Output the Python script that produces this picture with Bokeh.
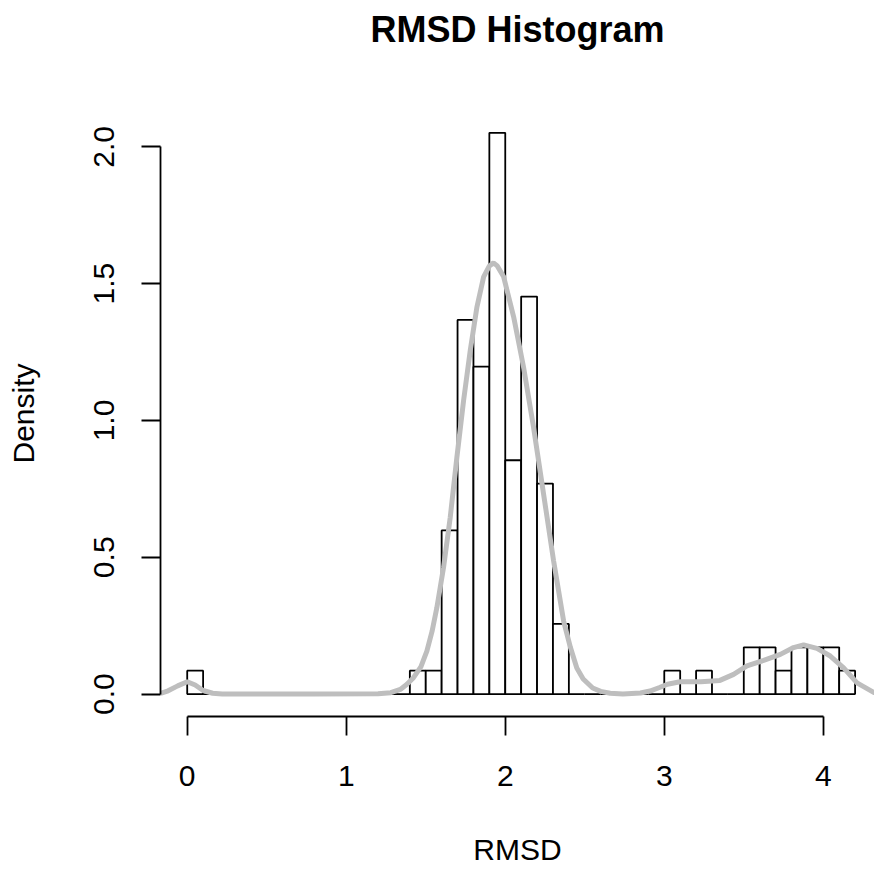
from bokeh.plotting import figure
from bokeh.models import Range1d, FixedTicker, Title
from bokeh.embed import file_html
from bokeh.resources import INLINE

# ---- data ----
bin_width = 0.1
bin_left = [0.0, 0.1, 0.2, 0.3, 0.4, 0.5, 0.6, 0.7, 0.8, 0.9,
            1.0, 1.1, 1.2, 1.3, 1.4, 1.5, 1.6, 1.7, 1.8, 1.9,
            2.0, 2.1, 2.2, 2.3, 2.4, 2.5, 2.6, 2.7, 2.8, 2.9,
            3.0, 3.1, 3.2, 3.3, 3.4, 3.5, 3.6, 3.7, 3.8, 3.9,
            4.0, 4.1]
bin_counts = [1, 0, 0, 0, 0, 0, 0, 0, 0, 0,
              0, 0, 0, 0, 1, 1, 7, 16, 14, 24,
              10, 17, 9, 3, 0, 0, 0, 0, 0, 0,
              1, 0, 1, 0, 0, 2, 2, 1, 2, 2,
              2, 1]

# kernel density curve
dens_x = [-0.168, -0.12, -0.06, 0.0, 0.05, 0.10, 0.16, 0.22, 0.4, 0.8,
          1.2, 1.28, 1.34, 1.38, 1.423, 1.47, 1.507, 1.54, 1.570, 1.612,
          1.654, 1.696, 1.738, 1.780, 1.822, 1.864, 1.90, 1.926, 1.95, 1.990,
          2.053, 2.115, 2.178, 2.241, 2.304, 2.367, 2.41, 2.45, 2.49, 2.55,
          2.60, 2.66, 2.74, 2.85, 2.91, 2.97, 3.02, 3.10, 3.23, 3.35,
          3.436, 3.52, 3.625, 3.73, 3.813, 3.876, 3.96, 4.044, 4.128, 4.212,
          4.317, 4.368]
dens_y = [0.002, 0.012, 0.030, 0.045, 0.033, 0.013, 0.003, 0.0, 0.0, 0.0,
          0.001, 0.005, 0.017, 0.035, 0.060, 0.100, 0.157, 0.230, 0.316, 0.463,
          0.646, 0.866, 1.073, 1.256, 1.415, 1.525, 1.565, 1.576, 1.565, 1.525,
          1.378, 1.195, 0.975, 0.731, 0.487, 0.267, 0.170, 0.095, 0.055, 0.022,
          0.010, 0.003, 0.0, 0.004, 0.011, 0.024, 0.036, 0.045, 0.045, 0.050,
          0.072, 0.103, 0.123, 0.145, 0.170, 0.180, 0.167, 0.139, 0.096, 0.041,
          0.006, 0.001]

x_ticks = [0, 1, 2, 3, 4]
y_ticks = [0, 0.5, 1.0, 1.5, 2.0]
y_tick_labels = ["0.0", "0.5", "1.0", "1.5", "2.0"]

title_text = "RMSD Histogram"
x_label = "RMSD"
y_label = "Density"

# ---- derived ----
n_total = sum(bin_counts)
bin_right = [b + bin_width for b in bin_left]
bin_density = [c / (n_total * bin_width) for c in bin_counts]

FONT = "Liberation Sans"

p = figure(width=874, height=869, output_backend="svg", toolbar_location=None,
           x_range=Range1d(-0.168, 4.322), y_range=Range1d(-0.082, 2.133),
           min_border_left=160, min_border_right=0,
           min_border_top=110, min_border_bottom=153)

p.outline_line_color = None
p.xgrid.visible = False
p.ygrid.visible = False
p.background_fill_color = "white"
p.border_fill_color = "white"

# empty spacer between the frame and the title (R puts the title higher)
spacer = Title(text=" ", text_font=FONT, text_font_size="40px")
p.add_layout(spacer, "above")
main_title = Title(text=title_text, text_font=FONT, text_font_size="36px",
                   text_font_style="bold", text_color="black",
                   align="center", offset=3)
p.add_layout(main_title, "above")

p.quad(left=bin_left, right=bin_right, bottom=0, top=bin_density,
       fill_color="white", line_color="black", line_width=1.8)

p.line(dens_x, dens_y, line_color="#BEBEBE", line_width=5)

for ax, ticks in ((p.xaxis[0], x_ticks), (p.yaxis[0], y_ticks)):
    ax.ticker = FixedTicker(ticks=ticks)
    ax.bounds = (ticks[0], ticks[-1])
    ax.minor_tick_line_color = None
    ax.major_tick_in = 0
    ax.major_tick_out = 19
    ax.major_tick_line_width = 1.8
    ax.axis_line_width = 1.8
    ax.major_label_text_font = FONT
    ax.major_label_text_font_size = "30px"
    ax.major_label_text_color = "black"
    ax.axis_label_text_font = FONT
    ax.axis_label_text_font_size = "30px"
    ax.axis_label_text_font_style = "normal"
    ax.axis_label_text_color = "black"

p.xaxis[0].axis_label = x_label
p.xaxis[0].major_label_standoff = 30
p.xaxis[0].axis_label_standoff = 44

p.yaxis[0].axis_label = y_label
p.yaxis[0].major_label_overrides = {t: s for t, s in zip(y_ticks, y_tick_labels)}
p.yaxis[0].major_label_orientation = "vertical"
p.yaxis[0].major_label_standoff = 27
p.yaxis[0].axis_label_standoff = 52

open("out.html", "w").write(file_html(p, INLINE))
